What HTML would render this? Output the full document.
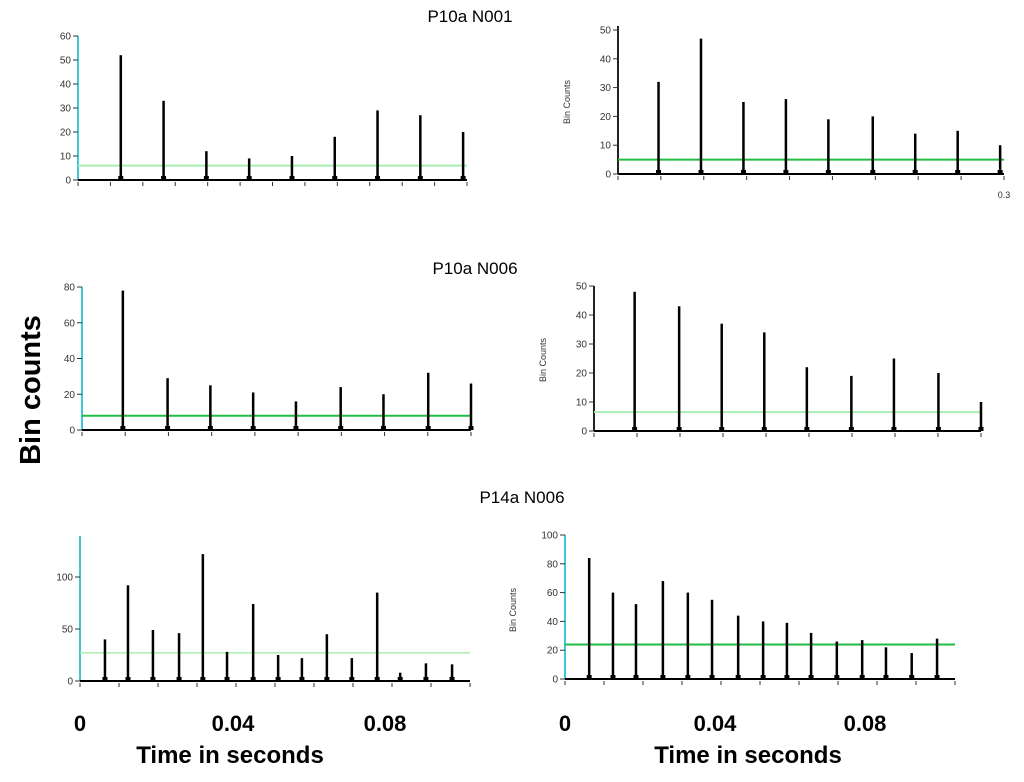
<!DOCTYPE html>
<html><head><meta charset="utf-8"><style>
body{margin:0;background:#fff;}
svg{display:block;font-family:"Liberation Sans",sans-serif;}
</style></head><body>
<svg id="fig" width="1024" height="782" viewBox="0 0 1024 782" xmlns="http://www.w3.org/2000/svg">
<text x="470" y="22" font-size="17" text-anchor="middle">P10a N001</text>
<text x="475" y="274" font-size="17" text-anchor="middle">P10a N006</text>
<text x="522" y="503" font-size="17" text-anchor="middle">P14a N006</text>
<text transform="translate(40,390) rotate(-90)" font-size="29" font-weight="bold" text-anchor="middle">Bin counts</text>
<text x="230" y="763" font-size="24" font-weight="bold" text-anchor="middle">Time in seconds</text>
<text x="748" y="763" font-size="24" font-weight="bold" text-anchor="middle">Time in seconds</text>
<g font-size="22" font-weight="bold" text-anchor="middle">
<text x="80" y="731">0</text>
<text x="233" y="731">0.04</text>
<text x="385" y="731">0.08</text>
<text x="565" y="731">0</text>
<text x="715" y="731">0.04</text>
<text x="865" y="731">0.08</text>
</g>
<text x="1004" y="198" font-size="9" text-anchor="middle" fill="#333">0.3</text>
<text transform="translate(570,102) rotate(-90)" font-size="9" text-anchor="middle" fill="#333">Bin Counts</text>
<text transform="translate(546,360) rotate(-90)" font-size="9" text-anchor="middle" fill="#333">Bin Counts</text>
<text transform="translate(516,610) rotate(-90)" font-size="9" text-anchor="middle" fill="#333">Bin Counts</text>
</svg>
<script>
// Panel data: peak times (fraction of window) and peak heights
const p1Times=[0.11,0.22,0.33,0.44,0.55,0.66,0.77,0.88,0.99];
const p1Heights=[52,33,12,9,10,18,29,27,20];
const p1Thresh=6;
const p1Ticks=[0,10,20,30,40,50,60];
const p2Times=[0.105,0.215,0.325,0.435,0.545,0.66,0.77,0.88,0.99];
const p2Heights=[32,47,25,26,19,20,14,15,10];
const p2Thresh=5;
const p2Ticks=[0,10,20,30,40,50];
const p3Times=[0.105,0.22,0.33,0.44,0.55,0.665,0.775,0.89,1.0];
const p3Heights=[78,29,25,21,16,24,20,32,26];
const p3Thresh=8;
const p3Ticks=[0,20,40,60,80];
const p4Times=[0.105,0.22,0.33,0.44,0.55,0.665,0.775,0.89,1.0];
const p4Heights=[48,43,37,34,22,19,25,20,10];
const p4Thresh=6.5;
const p4Ticks=[0,10,20,30,40,50];
const p5Times=[0.064,0.123,0.187,0.254,0.315,0.377,0.444,0.508,0.569,0.633,0.697,0.762,0.821,0.887,0.954];
const p5Heights=[40,92,49,46,122,28,74,25,22,45,22,85,8,17,16];
const p5Thresh=27;
const p5Ticks=[0,50,100];
const p6Times=[0.062,0.123,0.182,0.251,0.315,0.377,0.444,0.508,0.569,0.631,0.697,0.762,0.823,0.889,0.954];
const p6Heights=[84,60,52,68,60,55,44,40,39,32,26,27,22,18,28];
const p6Thresh=24;
const p6Ticks=[0,20,40,60,80,100];

const NS="http://www.w3.org/2000/svg";
const svg=document.getElementById('fig');
function mk(tag,attrs){const e=document.createElementNS(NS,tag);for(const k in attrs)e.setAttribute(k,attrs[k]);svg.appendChild(e);return e;}

function panel(id,cfg,times,heights,thresh,ticks){
  const X=t=>cfg.x0+t*(cfg.x1-cfg.x0);
  const Y=v=>cfg.y0-v*(cfg.y0-cfg.yTop)/cfg.ymax;
  const ax=mk('line',{x1:cfg.x0,y1:cfg.y0,x2:cfg.x0,y2:cfg.axisTop,stroke:cfg.axisColor,'stroke-width':2});
  
  
  ticks.forEach(v=>{
    mk('line',{x1:cfg.x0-5,y1:Y(v),x2:cfg.x0,y2:Y(v),stroke:'#333','stroke-width':1});
    const t=mk('text',{x:cfg.x0-7,y:Y(v)+3.5,'font-size':10,'text-anchor':'end',fill:'#333'});
    t.textContent=v;
    
    
  });
  const bl=mk('line',{x1:cfg.x0,y1:cfg.y0,x2:cfg.x1,y2:cfg.y0,stroke:'#000','stroke-width':2});
  
  
  for(let i=0;i<=cfg.nticks;i++){
    mk('line',{x1:X(i/cfg.nticks),y1:cfg.y0+2,x2:X(i/cfg.nticks),y2:cfg.y0+6,stroke:'#333','stroke-width':1});
  }
  const th=mk('line',{x1:cfg.x0,y1:Y(thresh),x2:cfg.x1,y2:Y(thresh),stroke:cfg.thColor,'stroke-width':cfg.thW});
  
  
  times.forEach((t,i)=>{
    const x=X(t);
    const p=mk('rect',{x:x-1.25,y:Y(heights[i]),width:2.5,height:cfg.y0-Y(heights[i]),fill:'#000'});
    
    
    mk('rect',{x:x-2.5,y:cfg.y0-4,width:5,height:4,fill:'#000'});
  });
}
panel('panel1',{x0:78,x1:467,y0:180,yTop:36,ymax:60,axisTop:36,axisColor:'#3cc8d8',nticks:12,thColor:'#a8eeb0',thW:2},p1Times,p1Heights,p1Thresh,p1Ticks);
panel('panel2',{x0:618,x1:1004,y0:174,yTop:30,ymax:50,axisTop:26,axisColor:'#222',nticks:9,thColor:'#22bb44',thW:2},p2Times,p2Heights,p2Thresh,p2Ticks);
panel('panel3',{x0:82,x1:471,y0:430,yTop:287,ymax:80,axisTop:287,axisColor:'#3cc8d8',nticks:9,thColor:'#22bb44',thW:2},p3Times,p3Heights,p3Thresh,p3Ticks);
panel('panel4',{x0:594,x1:981,y0:431,yTop:286,ymax:50,axisTop:286,axisColor:'#222',nticks:9,thColor:'#a8eeb0',thW:2},p4Times,p4Heights,p4Thresh,p4Ticks);
panel('panel5',{x0:80,x1:470,y0:681,yTop:577,ymax:100,axisTop:536,axisColor:'#3cc8d8',nticks:10,thColor:'#a8eeb0',thW:1.5},p5Times,p5Heights,p5Thresh,p5Ticks);
panel('panel6',{x0:565,x1:955,y0:679,yTop:535,ymax:100,axisTop:535,axisColor:'#3cc8d8',nticks:10,thColor:'#22bb44',thW:2},p6Times,p6Heights,p6Thresh,p6Ticks);
</script>
</body></html>
